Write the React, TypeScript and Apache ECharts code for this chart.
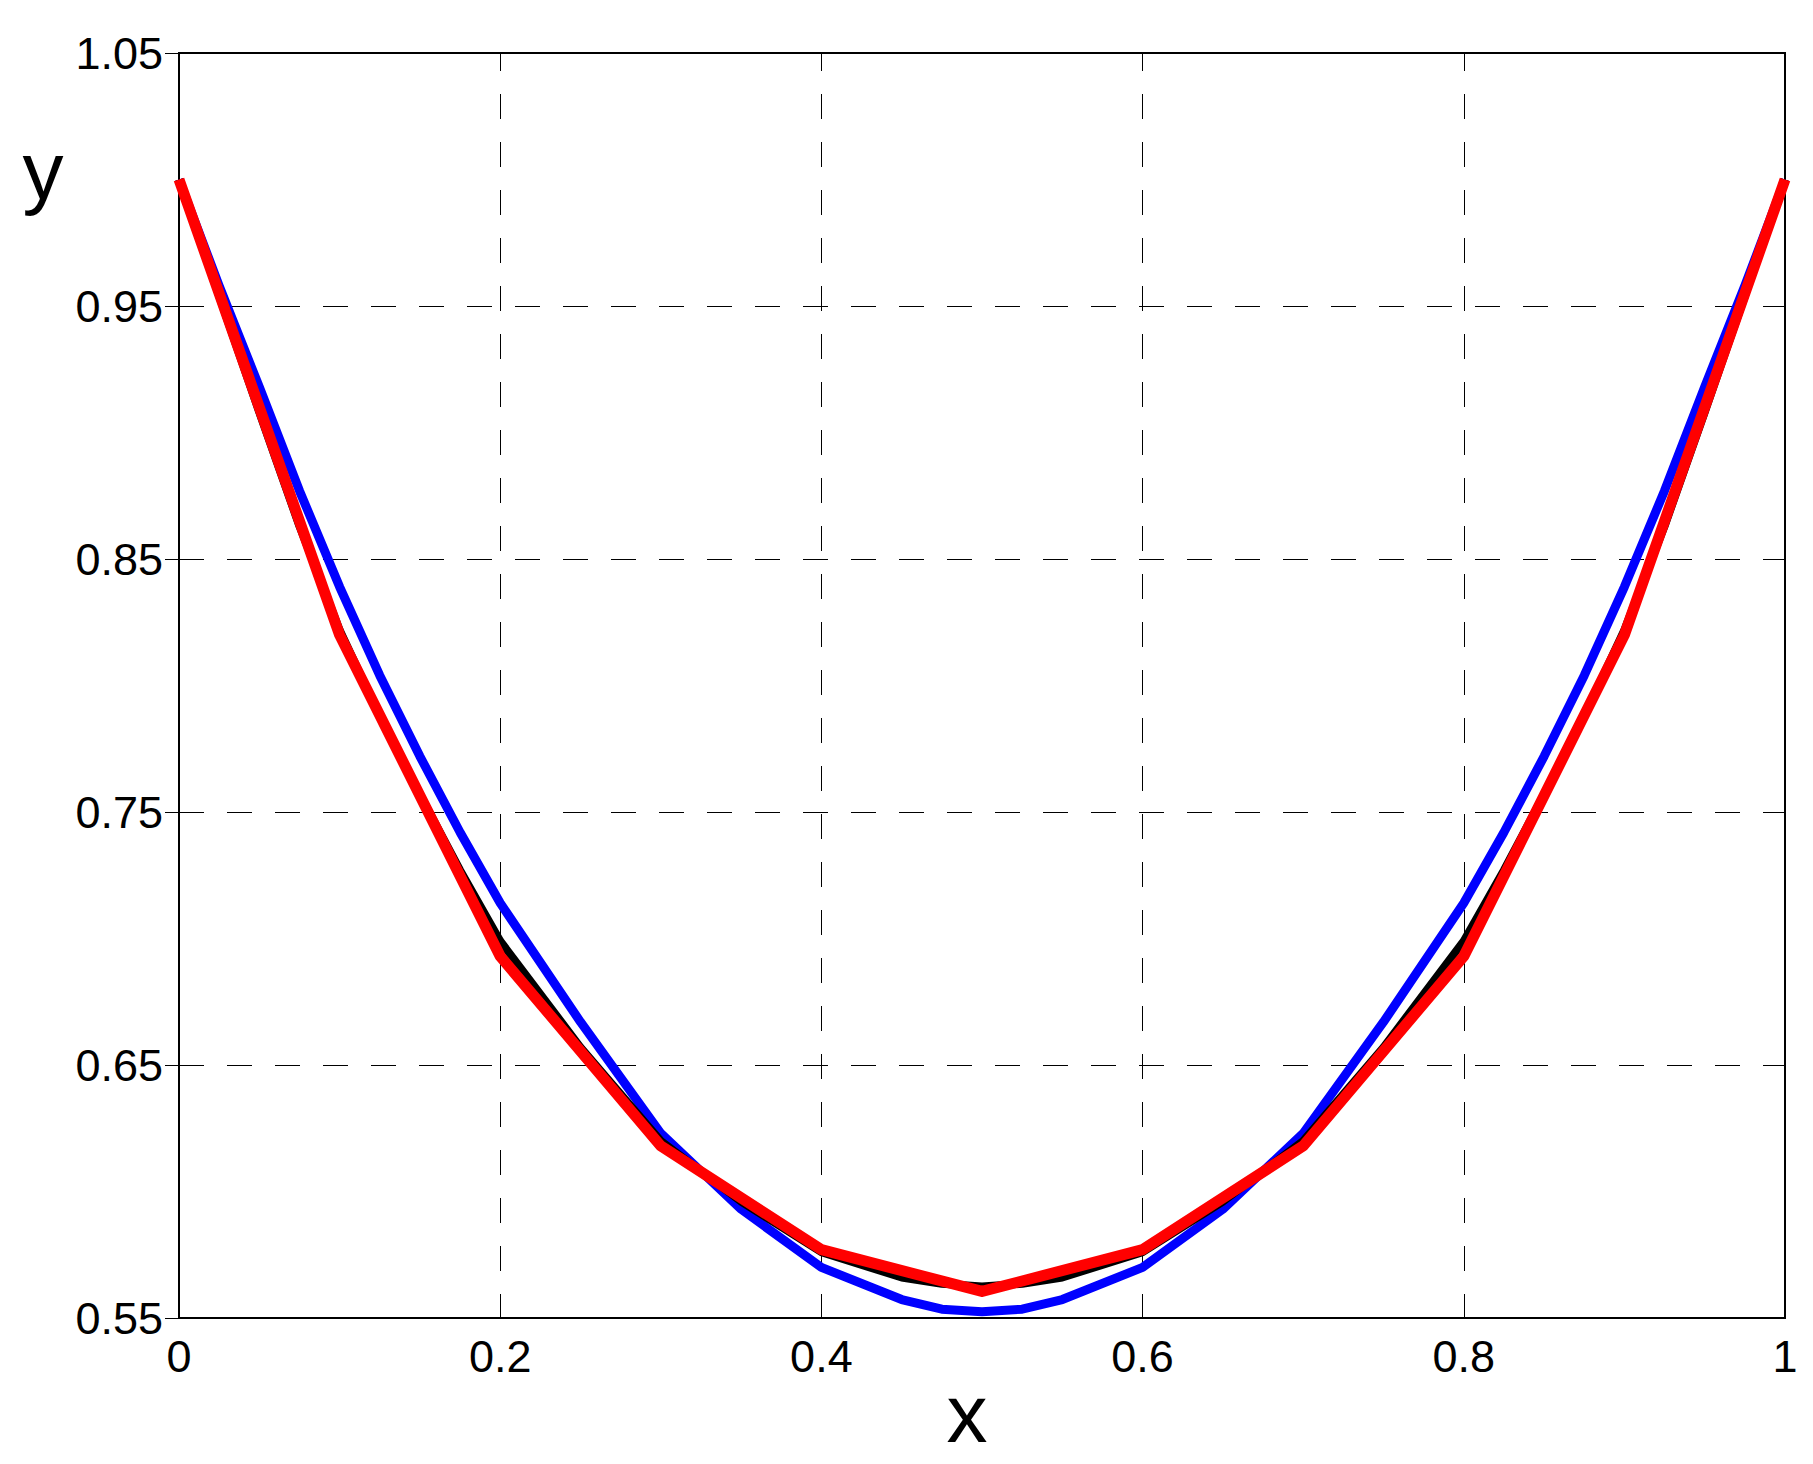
import React, { useEffect, useRef } from 'react';
import * as echarts from 'echarts';

// red: coarse grid solution (h = 0.1)
const redX = [0, 0.1, 0.2, 0.3, 0.4, 0.5, 0.6, 0.7, 0.8, 0.9, 1];
const redY = [1.0, 0.82, 0.693, 0.618, 0.577, 0.5605, 0.577, 0.618, 0.693, 0.82, 1.0];

// black and blue curves share the same sample points
const curveX = [0, 0.025, 0.05, 0.075, 0.1, 0.125, 0.15, 0.175, 0.2, 0.25, 0.3, 0.35, 0.4, 0.45, 0.475, 0.5, 0.525, 0.55, 0.6, 0.65, 0.7, 0.75, 0.8, 0.825, 0.85, 0.875, 0.9, 0.925, 0.95, 0.975, 1];
const blackY = [1.0, 0.954, 0.908, 0.863, 0.822, 0.788, 0.757, 0.727, 0.699, 0.657, 0.62, 0.596, 0.576, 0.566, 0.5635, 0.5625, 0.5635, 0.566, 0.576, 0.596, 0.62, 0.657, 0.699, 0.727, 0.757, 0.788, 0.822, 0.863, 0.908, 0.954, 1.0];
const blueY = [1.0, 0.958, 0.918, 0.877, 0.839, 0.804, 0.772, 0.742, 0.714, 0.667, 0.623, 0.593, 0.57, 0.5573, 0.5535, 0.5525, 0.5535, 0.5573, 0.57, 0.593, 0.623, 0.667, 0.714, 0.742, 0.772, 0.804, 0.839, 0.877, 0.918, 0.958, 1.0];

const FONT = "'Liberation Sans', Arial, sans-serif";

const zip = (xs: number[], ys: number[]) => xs.map((x, i) => [x, ys[i]]);

const App: React.FC = () => {
  const chartRef = useRef<HTMLDivElement>(null);

  useEffect(() => {
    if (!chartRef.current) return;
    const chart = echarts.init(chartRef.current, undefined, { renderer: 'svg' });

    const tick = { show: true, inside: true, length: 14, lineStyle: { color: '#000', width: 1 } };
    const dashed = (offset: number) => ({
      show: true,
      lineStyle: { color: '#000', width: 1, type: [25, 23], dashOffset: offset },
    });

    const option: any = {
      animation: false,
      backgroundColor: '#fff',
      grid: {
        left: 179,
        top: 53,
        width: 1606,
        height: 1265,
        show: true,
        borderColor: '#000',
        borderWidth: 2,
        backgroundColor: 'transparent',
      },
      xAxis: [
        {
          type: 'value',
          min: 0,
          max: 1,
          interval: 0.2,
          axisLine: { show: false },
          axisTick: tick,
          axisLabel: { margin: 16, fontSize: 45, color: '#000', fontFamily: FONT },
          splitLine: dashed(7),
        },
        {
          type: 'value',
          position: 'top',
          min: 0,
          max: 1,
          interval: 0.2,
          axisLine: { show: false },
          axisTick: tick,
          axisLabel: { show: false },
          splitLine: { show: false },
        },
      ],
      yAxis: [
        {
          type: 'value',
          min: 0.55,
          max: 1.05,
          interval: 0.1,
          axisLine: { show: false },
          axisTick: tick,
          axisLabel: {
            margin: 16,
            fontSize: 45,
            color: '#000',
            fontFamily: FONT,
            formatter: (v: number) => v.toFixed(2),
          },
          splitLine: dashed(0),
        },
        {
          type: 'value',
          position: 'right',
          min: 0.55,
          max: 1.05,
          interval: 0.1,
          axisLine: { show: false },
          axisTick: tick,
          axisLabel: { show: false },
          splitLine: { show: false },
        },
      ],
      series: [
        {
          name: 'blue',
          type: 'line',
          data: zip(curveX, blueY),
          showSymbol: false,
          lineStyle: { color: '#0000ff', width: 9, join: 'round' },
          z: 3,
        },
        {
          name: 'black',
          type: 'line',
          data: zip(curveX, blackY),
          showSymbol: false,
          lineStyle: { color: '#000', width: 8, join: 'round' },
          z: 4,
        },
        {
          name: 'red',
          type: 'line',
          data: zip(redX, redY),
          showSymbol: false,
          lineStyle: { color: '#ff0000', width: 11, join: 'round' },
          z: 5,
        },
      ],
      graphic: [
        {
          type: 'text',
          x: 43,
          y: 170,
          style: { text: 'y', fontSize: 82, fontFamily: FONT, fill: '#000', align: 'center', verticalAlign: 'middle' },
        },
        {
          type: 'text',
          x: 967,
          y: 1413,
          style: { text: 'x', fontSize: 82, fontFamily: FONT, fill: '#000', align: 'center', verticalAlign: 'middle' },
        },
      ],
    };

    chart.setOption(option);
    const handleResize = () => chart.resize();
    window.addEventListener('resize', handleResize);
    return () => {
      window.removeEventListener('resize', handleResize);
      chart.dispose();
    };
  }, []);

  return (
    <div
      ref={chartRef}
      style={{ position: 'absolute', left: 0, top: 0, width: 1813, height: 1464, background: '#fff' }}
    />
  );
};

export default App;
